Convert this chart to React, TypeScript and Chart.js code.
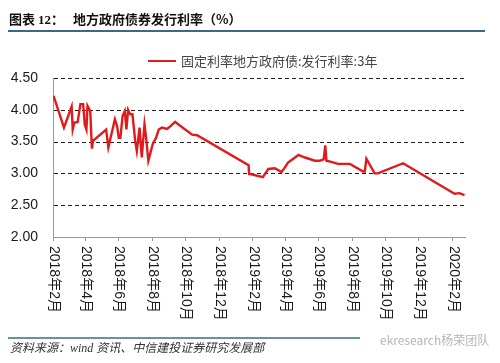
import React, { useEffect, useRef } from "react";
import { Chart, registerables } from "chart.js";

Chart.register(...registerables);

// Issue dates and 3-year fixed-rate local government bond issue rates (%)
const DATES: string[] = [
  "2018-02-02", "2018-02-21", "2018-03-07", "2018-03-09", "2018-03-12", "2018-03-18",
  "2018-03-23", "2018-03-28", "2018-03-31", "2018-04-03", "2018-04-05", "2018-04-10",
  "2018-04-13", "2018-04-15", "2018-05-09", "2018-05-13", "2018-05-22", "2018-05-25",
  "2018-05-29", "2018-06-01", "2018-06-04", "2018-06-08", "2018-06-12", "2018-06-15",
  "2018-06-18", "2018-06-22", "2018-06-26", "2018-07-01", "2018-07-04", "2018-07-09",
  "2018-07-13", "2018-07-18", "2018-07-21", "2018-07-25", "2018-08-02", "2018-08-08",
  "2018-08-13", "2018-08-19", "2018-08-28", "2018-09-03", "2018-09-12", "2018-09-18",
  "2018-10-13", "2018-10-22", "2019-01-24", "2019-01-25", "2019-01-27", "2019-02-19",
  "2019-03-01", "2019-03-13", "2019-03-25", "2019-03-31", "2019-04-06", "2019-04-25",
  "2019-05-07", "2019-05-25", "2019-06-03", "2019-06-10", "2019-06-13", "2019-06-15",
  "2019-06-24", "2019-07-06", "2019-07-28", "2019-08-21", "2019-08-24", "2019-08-27",
  "2019-09-11", "2019-09-17", "2019-11-02", "2020-02-04", "2020-02-13", "2020-02-22",
];

const RATES: number[] = [
  4.22, 3.72, 4.05, 3.69, 3.80, 3.81, 4.09, 4.09, 3.77, 3.69,
  4.06, 3.98, 3.39, 3.51, 3.69, 3.41, 3.74, 3.85, 3.74, 3.56,
  3.56, 3.90, 3.98, 3.69, 4.00, 3.93, 3.93, 3.51, 3.35, 3.72,
  3.25, 3.77, 3.56, 3.20, 3.46, 3.56, 3.69, 3.72, 3.70, 3.74,
  3.81, 3.77, 3.61, 3.60, 3.13, 2.99, 2.99, 2.94, 3.07, 3.08,
  3.02, 3.09, 3.17, 3.29, 3.25, 3.20, 3.20, 3.22, 3.44, 3.20,
  3.18, 3.15, 3.15, 3.03, 3.03, 3.23, 3.00, 3.00, 3.16, 2.68,
  2.69, 2.66,
];

const TICK_DATES: string[] = [
  "2018-02-01", "2018-04-01", "2018-06-01", "2018-08-01", "2018-10-01", "2018-12-01",
  "2019-02-01", "2019-04-01", "2019-06-01", "2019-08-01", "2019-10-01", "2019-12-01",
  "2020-02-01",
];

const TICK_LABELS: string[] = [
  "2018年2月", "2018年4月", "2018年6月", "2018年8月", "2018年10月", "2018年12月",
  "2019年2月", "2019年4月", "2019年6月", "2019年8月", "2019年10月", "2019年12月",
  "2020年2月",
];

const AXIS_START = "2018-02-01";
const AXIS_END = "2020-02-23";
const Y_MIN = 2;
const Y_MAX = 4.5;
const Y_STEP = 0.5;

const SERIES_NAME = "固定利率地方政府债:发行利率:3年";

function dayOf(s: string): number {
  const [y, m, d] = s.split("-").map(Number);
  const [y0, m0, d0] = AXIS_START.split("-").map(Number);
  return (Date.UTC(y, m - 1, d) - Date.UTC(y0, m0 - 1, d0)) / 86400000;
}

const TICK_FONT = '14px "Liberation Sans", Arial, "Noto Sans CJK SC", sans-serif';

const verticalLabels = {
  id: "verticalLabels",
  afterDraw(chart: any) {
    const xs = chart.scales.x;
    const ctx = chart.ctx;
    ctx.save();
    ctx.font = TICK_FONT;
    ctx.fillStyle = "#1a1a1a";
    ctx.textAlign = "left";
    ctx.textBaseline = "middle";
    TICK_DATES.forEach((d, i) => {
      const x = xs.getPixelForValue(dayOf(d));
      ctx.save();
      ctx.translate(x + 0.5, xs.top + 9);
      ctx.rotate(Math.PI / 2);
      ctx.fillText(TICK_LABELS[i], 0, 0);
      ctx.restore();
    });
    ctx.restore();
  },
};

const dashedGrid = {
  id: "dashedGrid",
  beforeDatasetsDraw(chart: any) {
    const ys = chart.scales.y;
    const { left, right } = chart.chartArea;
    const ctx = chart.ctx;
    ctx.save();
    ctx.strokeStyle = "#1e1e1e";
    ctx.lineWidth = 1;
    ctx.setLineDash([4, 3]);
    ys.ticks.forEach((t: any) => {
      if (t.value <= Y_MIN) return;
      const y = Math.round(ys.getPixelForValue(t.value)) + 0.5;
      ctx.beginPath();
      ctx.moveTo(left + 1, y);
      ctx.lineTo(right, y);
      ctx.stroke();
    });
    ctx.restore();
  },
};

export default function App() {
  const ref = useRef<HTMLCanvasElement | null>(null);

  useEffect(() => {
    if (!ref.current) return;
    const data = DATES.map((d, i) => ({ x: dayOf(d), y: RATES[i] }));
    const chart = new Chart(ref.current, {
      type: "line",
      data: {
        datasets: [
          {
            label: SERIES_NAME,
            data,
            borderColor: "#e01b1b",
            backgroundColor: "#e01b1b",
            borderWidth: 2.4,
            pointRadius: 0,
            tension: 0,
            fill: false,
          },
        ],
      },
      options: {
        responsive: false,
        animation: false,
        layout: { padding: { top: 78, right: 35, left: 0, bottom: 0 } },
        plugins: {
          legend: { display: false },
          tooltip: { enabled: false },
        },
        scales: {
          x: {
            type: "linear",
            min: 0,
            max: dayOf(AXIS_END),
            afterBuildTicks: (scale: any) => {
              scale.ticks = TICK_DATES.map((d) => ({ value: dayOf(d) }));
            },
            afterFit: (scale: any) => {
              scale.height = 126;
            },
            ticks: { display: false, autoSkip: false },
            grid: {
              drawOnChartArea: false,
              drawTicks: true,
              tickLength: 4,
              color: "#9a9a9a",
            },
            border: { color: "#9a9a9a", width: 1 },
          },
          y: {
            min: Y_MIN,
            max: Y_MAX,
            afterFit: (scale: any) => {
              scale.width = 53;
            },
            ticks: {
              stepSize: Y_STEP,
              padding: 15,
              color: "#1a1a1a",
              font: { family: '"Liberation Sans", Arial, sans-serif', size: 14 },
              callback: (v: any) => Number(v).toFixed(2),
            },
            grid: {
              drawTicks: false,
              drawOnChartArea: false,
            },
            border: { color: "#9a9a9a", width: 1 },
          },
        },
      },
      plugins: [dashedGrid, verticalLabels],
    } as any);
    return () => chart.destroy();
  }, []);

  return (
    <div
      style={{
        position: "fixed",
        left: 0,
        top: 0,
        width: 500,
        height: 363,
        background: "#fff",
        overflow: "hidden",
        fontFamily: '"Noto Sans CJK SC", sans-serif',
      }}
    >
      <canvas
        ref={ref}
        width={500}
        height={363}
        style={{ position: "absolute", left: 0, top: 0, display: "block" }}
      />
      <div
        style={{
          position: "absolute",
          left: 9,
          top: 11,
          fontSize: 13,
          lineHeight: "15px",
          fontWeight: 700,
          color: "#111",
          whiteSpace: "nowrap",
        }}
      >
        图表 <span style={{ fontFamily: '"Liberation Serif", serif' }}>12</span>：
      </div>
      <div
        style={{
          position: "absolute",
          left: 73,
          top: 11,
          fontSize: 13,
          lineHeight: "15px",
          fontWeight: 700,
          color: "#111",
          whiteSpace: "nowrap",
        }}
      >
        地方政府债券发行利率（%）
      </div>
      <div
        style={{ position: "absolute", left: 8, top: 30, width: 477, height: 2, background: "#3e6888" }}
      />
      <div
        style={{ position: "absolute", left: 148, top: 60, width: 28, height: 2, background: "#e01b1b" }}
      />
      <div
        style={{
          position: "absolute",
          left: 181,
          top: 53,
          fontSize: 13,
          lineHeight: "16px",
          color: "#444",
          whiteSpace: "nowrap",
        }}
      >
        {SERIES_NAME}
      </div>
      <div
        style={{ position: "absolute", left: 8, top: 337, width: 352, height: 2, background: "#6a8fa8" }}
      />
      <div
        style={{
          position: "absolute",
          left: 10,
          top: 341,
          fontSize: 12,
          lineHeight: "14px",
          fontStyle: "italic",
          color: "#333",
          whiteSpace: "nowrap",
          fontFamily: '"Liberation Serif", "Noto Sans CJK SC", serif',
        }}
      >
        资料来源：wind 资讯、中信建投证券研究发展部
      </div>
      <div
        style={{
          position: "absolute",
          left: 380,
          top: 333,
          fontSize: 12,
          lineHeight: "14px",
          color: "#b5b5b5",
          whiteSpace: "nowrap",
        }}
      >
        ekresearch杨荣团队
      </div>
    </div>
  );
}
